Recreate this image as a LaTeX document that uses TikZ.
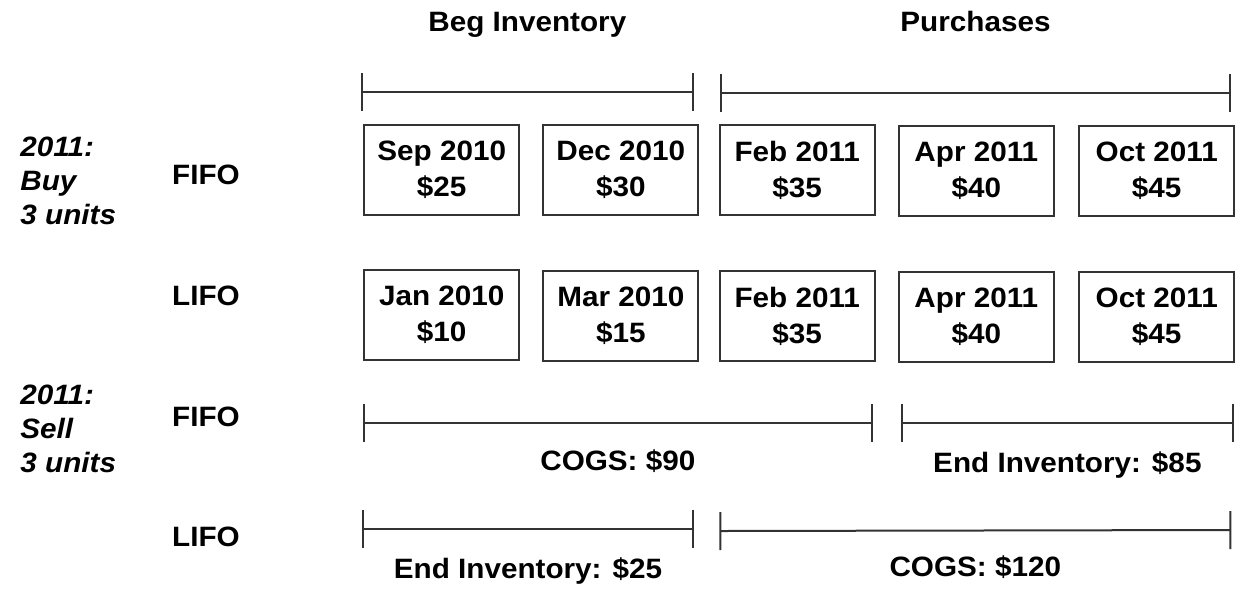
\documentclass[tikz,border=0pt]{standalone}
\usepackage{fontspec}
\setmainfont{Liberation Sans}[FakeStretch = 1.06]
\usetikzlibrary{arrows.meta}

\begin{document}
\begin{tikzpicture}[x = 0.5pt, y = -0.5pt,
	 lot/.style = {draw = black!80, line width = 1pt, minimum width = 77.5pt, minimum height = 45pt, inner sep = 0pt, align = center, font = \fontsize{14}{18}\selectfont\bfseries},
	 tag/.style = {font = \fontsize{14}{17}\selectfont\bfseries},
	 year/.style = {anchor = west, inner sep = 0pt, align = left, font = \fontsize{14}{17}\selectfont\bfseries\itshape},
	 span/.style = {draw = black!80, line width = 1pt, {Bar[width = 19pt]}-{Bar[width = 19pt]}}]
	 \useasboundingbox (0, 0) rectangle (1245, 601);
	 
	 \coordinate (begL) at (360.7, 92);
	 \coordinate (begR) at (694, 92);
	 \coordinate (purL) at (720, 93);
	 \coordinate (purR) at (1231, 93);
	 \draw[span] (begL) -- node[tag, midway, yshift = 33.5pt] (beg) {Beg Inventory} (begR);
	 \draw[span] (purL) -- node[tag, midway, yshift = 36pt] (pur) {Purchases} (purR);
	 
	 \node[year] (buy) at (20, 181) {2011:\\Buy\\3 units};
	 \node[tag] (fifoBuy) at (206, 175) {FIFO};
	 \node[tag] (lifoBuy) at (206, 296) {LIFO};
	 
	 \node[lot] (sep) at (441.7, 170) {Sep 2010\\\$25};
	 \node[lot] (dec) at (620.8, 170) {Dec 2010\\\$30};
	 \node[lot] (feb) at (797.2, 170) {Feb 2011\\\$35};
	 \node[lot] (apr) at (976.3, 171) {Apr 2011\\\$40};
	 \node[lot] (oct) at (1156.7, 171) {Oct 2011\\\$45};
	 
	 \node[lot] (jan) at (441.7, 315) {Jan 2010\\\$10};
	 \node[lot] (mar) at (620.8, 316) {Mar 2010\\\$15};
	 \node[lot] (feb2) at (797.2, 316) {Feb 2011\\\$35};
	 \node[lot] (apr2) at (976.3, 317) {Apr 2011\\\$40};
	 \node[lot] (oct2) at (1156.7, 317) {Oct 2011\\\$45};
	 
	 \node[year] (sell) at (20, 429) {2011:\\Sell\\3 units};
	 \node[tag] (fifoSell) at (206, 417) {FIFO};
	 \node[tag] (lifoSell) at (206, 537) {LIFO};
	 
	 % FIFO sold
	 \coordinate (fcL) at (363, 423);
	 \coordinate (fcR) at (872.7, 423);
	 \coordinate (feL) at (900.7, 422.7);
	 \coordinate (feR) at (1234, 422.7);
	 \draw[span] (fcL) -- node[tag, midway, yshift = -19pt] (fcogs) {COGS: \$90} (fcR);
	 \draw[span] (feL) -- node[tag, midway, yshift = -21pt] (fend) {End Inventory: \$85} (feR);
	 
	 % LIFO sold
	 \coordinate (leL) at (362, 528.5);
	 \coordinate (leR) at (694, 528.5);
	 \coordinate (lcL) at (719.3, 531);
	 \coordinate (lcR) at (1231.3, 530);
	 \draw[span] (leL) -- node[tag, midway, yshift = -21pt] (lend) {End Inventory: \$25} (leR);
	 \draw[span] (lcL) -- node[tag, midway, yshift = -18.5pt] (lcogs) {COGS: \$120} (lcR);
\end{tikzpicture}
\end{document}
